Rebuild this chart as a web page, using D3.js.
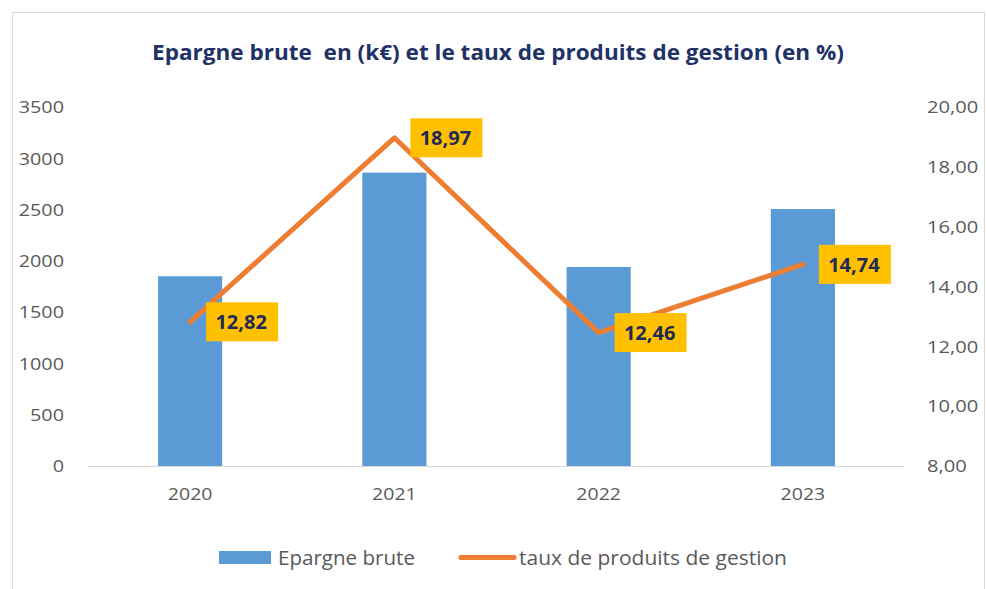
<!DOCTYPE html>
<html><head><meta charset="utf-8">
<script src="https://cdn.jsdelivr.net/npm/d3@7"></script>
<style>body{margin:0;background:#fff;} svg{display:block;}</style>
</head><body>
<svg id="c" width="986" height="589"></svg>
<script>
const categories = ["2020", "2021", "2022", "2023"];
const epargneBrute = [1850, 2860, 1940, 2505];
const tauxProduits = [12.82, 18.97, 12.46, 14.74];
const leftTicks = [0, 500, 1000, 1500, 2000, 2500, 3000, 3500];
const rightTicks = [8, 10, 12, 14, 16, 18, 20];
const title = "Epargne brute  en (k€) et le taux de produits de gestion (en %)";
const seriesNames = ["Epargne brute", "taux de produits de gestion"];

const svg = d3.select("#c");
const m = {l: 88, r: 905, t: 107, b: 466};
const fmt = v => d3.format(".2f")(v).replace(".", ",");
const FONT = "Open Sans";

function stretch(sel, k) {
  sel.each(function () {
    const w = this.getComputedTextLength();
    d3.select(this).attr("textLength", w * k).attr("lengthAdjust", "spacingAndGlyphs");
  });
}

svg.append("rect").attr("x", 12.5).attr("y", 12.5).attr("width", 972).attr("height", 600)
  .attr("fill", "#fff").attr("stroke", "#d9d9d9").attr("stroke-width", 1);

svg.append("text").attr("x", 498).attr("y", 60).attr("text-anchor", "middle")
  .style("white-space", "pre").attr("xml:space", "preserve")
  .attr("font-family", FONT).attr("font-weight", "bold").attr("font-size", 21)
  .attr("fill", "#1f3266").attr("textLength", 692).attr("lengthAdjust", "spacingAndGlyphs").text(title);

const x = d3.scaleBand().domain(categories).range([m.l, m.r]).paddingInner(0.686).paddingOuter(0.343);
const yL = d3.scaleLinear().domain([0, 3500]).range([m.b, m.t]);
const yR = d3.scaleLinear().domain([8, 20]).range([m.b, m.t]);

// axes
const axL = svg.append("g").attr("transform", `translate(${m.l - 24},0)`)
  .call(d3.axisLeft(yL).tickValues(leftTicks).tickSize(0).tickPadding(0).tickFormat(d3.format("d")));
axL.select(".domain").remove();
axL.selectAll("text").attr("font-family", FONT).attr("font-size", 16.5).attr("fill", "#595959").attr("dy", "0.35em");
stretch(axL.selectAll("text"), 1.2);

const axR = svg.append("g").attr("transform", `translate(${m.r + 22},0)`)
  .call(d3.axisRight(yR).tickValues(rightTicks).tickSize(0).tickPadding(0).tickFormat(fmt));
axR.select(".domain").remove();
axR.selectAll("text").attr("font-family", FONT).attr("font-size", 16.5).attr("fill", "#595959").attr("dy", "0.35em");
stretch(axR.selectAll("text"), 1.22);

// baseline
svg.append("line").attr("x1", m.l).attr("x2", m.r).attr("y1", m.b + 0.5).attr("y2", m.b + 0.5)
  .attr("stroke", "#d9d9d9").attr("stroke-width", 1);

const axB = svg.append("g").attr("transform", `translate(0,${m.b + 22})`)
  .call(d3.axisBottom(x).tickSize(0).tickPadding(0));
axB.select(".domain").remove();
axB.selectAll("text").attr("font-family", FONT).attr("font-size", 16.5).attr("fill", "#595959").attr("dy", "0.71em");
stretch(axB.selectAll("text"), 1.18);

// bars
svg.append("g").selectAll("rect").data(categories).join("rect")
  .attr("x", d => x(d)).attr("width", x.bandwidth())
  .attr("y", (d, i) => yL(epargneBrute[i])).attr("height", (d, i) => m.b - yL(epargneBrute[i]))
  .attr("fill", "#5b9bd5");

// line
const cx = d => x(d) + x.bandwidth() / 2;
const line = d3.line().x((d, i) => cx(categories[i])).y(d => yR(d));
svg.append("path").datum(tauxProduits).attr("d", line).attr("fill", "none")
  .attr("stroke", "#ed7d31").attr("stroke-width", 5).attr("stroke-linecap", "round").attr("stroke-linejoin", "round");

// labels
const lg = svg.append("g").selectAll("g").data(tauxProduits).join("g")
  .attr("transform", (d, i) => `translate(${cx(categories[i]) + 16},${yR(d)})`);
lg.append("rect").attr("x", 0).attr("y", -19.5).attr("width", 72).attr("height", 39).attr("fill", "#ffc000");
lg.append("text").attr("x", 35).attr("y", 0).attr("dy", "0.36em").attr("text-anchor", "middle")
  .attr("font-family", FONT).attr("font-weight", "bold").attr("font-size", 20).attr("fill", "#1f2a55")
  .text(d => fmt(d));

// legend
svg.append("rect").attr("x", 219).attr("y", 551).attr("width", 52).attr("height", 13).attr("fill", "#5b9bd5");
const t1 = svg.append("text").attr("x", 278).attr("y", 558).attr("dy", "0.35em").attr("font-family", FONT)
  .attr("font-size", 19.5).attr("fill", "#595959").text(seriesNames[0]);
t1.attr("textLength", 137).attr("lengthAdjust", "spacingAndGlyphs");
svg.append("line").attr("x1", 461).attr("x2", 514).attr("y1", 557.5).attr("y2", 557.5)
  .attr("stroke", "#ed7d31").attr("stroke-width", 5).attr("stroke-linecap", "round");
const t2 = svg.append("text").attr("x", 519).attr("y", 558).attr("dy", "0.35em").attr("font-family", FONT)
  .attr("font-size", 19.5).attr("fill", "#595959").text(seriesNames[1]);
t2.attr("textLength", 268).attr("lengthAdjust", "spacingAndGlyphs");
</script>
</body></html>
